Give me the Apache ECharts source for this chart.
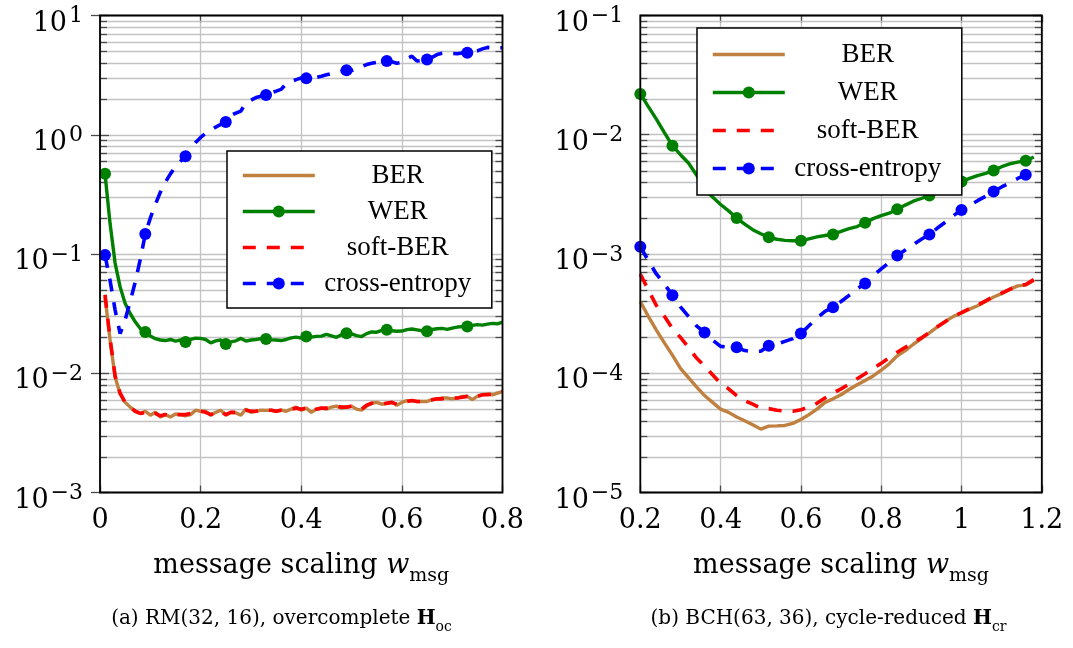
<!DOCTYPE html>
<html><head><meta charset="utf-8">
<script src="https://cdn.jsdelivr.net/npm/echarts@6/dist/echarts.min.js"></script>
<style>html,body{margin:0;padding:0;background:#fff}#c{width:1073px;height:648px}</style>
</head><body><div id="c"></div>
<script>
// ---------- data : left panel (RM(32,16)) ----------
const xLeft = [0.01,0.02,0.03,0.04,0.05,0.06,0.07,0.08,0.09,0.10,
  0.11,0.12,0.13,0.14,0.15,0.16,0.17,0.18,0.19,0.20,
  0.21,0.22,0.23,0.24,0.25,0.26,0.27,0.28,0.29,0.30,
  0.31,0.32,0.33,0.34,0.35,0.36,0.37,0.38,0.39,0.40,
  0.41,0.42,0.43,0.44,0.45,0.46,0.47,0.48,0.49,0.50,
  0.51,0.52,0.53,0.54,0.55,0.56,0.57,0.58,0.59,0.60,
  0.61,0.62,0.63,0.64,0.65,0.66,0.67,0.68,0.69,0.70,
  0.71,0.72,0.73,0.74,0.75,0.76,0.77,0.78,0.79,0.80];
const berLeft = [0.0440,0.0190,0.0093,0.0067,0.0057,0.0052,0.0048,0.0046,0.0048,0.00445,
  0.0047,0.0043,0.0045,0.0043,0.00455,0.0045,0.0044,0.0045,0.0049,0.0048,
  0.0048,0.00445,0.0047,0.0049,0.00443,0.0047,0.00465,0.00445,0.0050,0.0047,
  0.0048,0.0049,0.00488,0.0049,0.0048,0.0049,0.0048,0.0050,0.0052,0.0049,
  0.0051,0.0047,0.0050,0.0051,0.0050,0.0052,0.0053,0.0051,0.0052,0.0053,
  0.0050,0.0049,0.0053,0.0056,0.0057,0.0055,0.0056,0.0057,0.0054,0.0057,
  0.0059,0.0059,0.0058,0.0058,0.0058,0.0060,0.0061,0.0062,0.0062,0.0061,
  0.0062,0.0064,0.0064,0.0060,0.0064,0.0066,0.0067,0.0066,0.0068,0.0070];
const softBerLeft = [0.0455,0.0195,0.0095,0.0068,0.0057,0.0052,0.0048,0.0046,0.0047,0.0045,
  0.0046,0.0044,0.0045,0.0044,0.0045,0.0045,0.0045,0.0046,0.0048,0.0048,
  0.0047,0.0045,0.0047,0.0048,0.0045,0.0047,0.0047,0.0046,0.0049,0.0048,
  0.0048,0.0049,0.0049,0.0049,0.0048,0.0049,0.0049,0.0050,0.0051,0.0050,
  0.0051,0.0048,0.0050,0.0051,0.0051,0.0052,0.0053,0.0052,0.0052,0.0053,
  0.0051,0.0050,0.0054,0.0056,0.0056,0.0055,0.0056,0.0057,0.0055,0.0057,
  0.0058,0.0059,0.0058,0.0058,0.0059,0.0060,0.0061,0.0061,0.0062,0.0062,
  0.0062,0.0063,0.0064,0.0062,0.0064,0.0066,0.0066,0.0067,0.0068,0.0070];
const werLeft = [0.47,0.18,0.084,0.053,0.0385,0.0317,0.027,0.0237,0.0222,0.0205,
  0.0195,0.0190,0.0188,0.0192,0.0186,0.0190,0.0183,0.0192,0.0197,0.0196,
  0.0192,0.0180,0.0187,0.0190,0.0176,0.0183,0.0187,0.0196,0.0186,0.0190,
  0.0192,0.0195,0.0194,0.0191,0.0190,0.0188,0.0192,0.0198,0.0201,0.0197,
  0.0203,0.0201,0.0204,0.0205,0.0212,0.0206,0.0200,0.0210,0.0216,0.0214,
  0.0207,0.0203,0.0215,0.0222,0.0221,0.0229,0.0232,0.0227,0.0225,0.0226,
  0.0232,0.0235,0.0231,0.0227,0.0225,0.0233,0.0236,0.0238,0.0233,0.0239,
  0.0244,0.0246,0.0247,0.0252,0.0256,0.0253,0.0258,0.0262,0.0260,0.0268];
const ceLeft = [0.098,0.060,0.034,0.0215,0.028,0.040,0.058,0.090,0.147,0.20,
  0.26,0.33,0.40,0.47,0.54,0.60,0.66,0.76,0.86,0.95,
  1.03,1.09,1.16,1.22,1.28,1.45,1.52,1.58,1.85,1.95,
  2.05,2.10,2.15,2.25,2.32,2.40,2.68,2.80,2.90,3.00,
  2.97,2.97,3.03,3.10,3.18,3.26,3.33,3.40,3.48,3.45,
  3.55,3.72,3.88,3.98,4.05,4.10,4.15,4.10,3.98,4.05,
  4.35,4.56,4.15,4.20,4.28,4.45,4.70,4.82,4.88,4.80,
  4.78,4.85,4.88,4.95,5.05,5.25,5.40,5.35,5.30,5.37];

// ---------- data : right panel (BCH(63,36)) ----------
const xRight = [0.20,0.22,0.24,0.26,0.28,0.30,0.32,0.34,0.36,0.38,
  0.40,0.42,0.44,0.46,0.48,0.50,0.52,0.54,0.56,0.58,
  0.60,0.62,0.64,0.66,0.68,0.70,0.72,0.74,0.76,0.78,
  0.80,0.82,0.84,0.86,0.88,0.90,0.92,0.94,0.96,0.98,
  1.00,1.02,1.04,1.06,1.08,1.10,1.12,1.14,1.16,1.18];
const berRight = [0.00040,0.00030,0.00023,0.00018,0.000142,0.000110,0.000092,0.000077,0.000065,0.000057,
  0.000050,0.000047,0.000043,0.000040,0.000037,0.000034,0.000036,0.0000362,0.0000365,0.000038,
  0.000041,0.000045,0.000050,0.000057,0.000061,0.000066,0.000073,0.000080,0.000087,0.000095,
  0.000106,0.000120,0.000140,0.000155,0.000175,0.000195,0.000218,0.000245,0.000272,0.000300,
  0.000320,0.000345,0.000368,0.000400,0.000436,0.000465,0.000505,0.000540,0.000548,0.000600];
const softBerRight = [0.00068,0.00050,0.00037,0.00030,0.000238,0.000200,0.000165,0.000134,0.000115,0.000097,
  0.000082,0.000074,0.000065,0.000059,0.000055,0.000051,0.0000505,0.000049,0.000048,0.000048,
  0.0000495,0.000052,0.000056,0.000062,0.000068,0.000074,0.000081,0.000090,0.000099,0.000110,
  0.000121,0.000135,0.000150,0.000165,0.000180,0.000198,0.000220,0.000245,0.000272,0.000300,
  0.000322,0.000348,0.000372,0.000405,0.000440,0.000470,0.000505,0.000540,0.000555,0.000610];
const werRight = [0.0220,0.0172,0.0135,0.0104,0.0081,0.0068,0.0058,0.0046,0.0035,0.0030,
  0.0026,0.0023,0.0020,0.00178,0.00160,0.00148,0.00138,0.00133,0.00130,0.00129,
  0.00129,0.00134,0.00139,0.00143,0.00146,0.00155,0.00163,0.00170,0.00183,0.00198,
  0.00210,0.00220,0.00237,0.00257,0.00277,0.00292,0.00310,0.00330,0.00350,0.00378,
  0.00405,0.00430,0.00455,0.00475,0.00501,0.00540,0.00570,0.00590,0.00605,0.00650];
const ceRight = [0.00115,0.00088,0.00068,0.00056,0.00045,0.00036,0.00030,0.00025,0.00022,0.00019,
  0.000168,0.000166,0.000165,0.000155,0.000152,0.000153,0.000170,0.000175,0.000185,0.000195,
  0.000215,0.00025,0.00029,0.00033,0.000357,0.00040,0.00045,0.00051,0.000567,0.00066,
  0.00075,0.00085,0.00097,0.00108,0.00120,0.00133,0.00146,0.00165,0.00185,0.00210,
  0.00234,0.00255,0.00280,0.00305,0.00334,0.00365,0.00395,0.00430,0.00461,0.00490];

// ---------- labels / ticks ----------
const seriesNames = ['BER', 'WER', 'soft-BER', 'cross-entropy'];
const decadesLeft = [-3, -2, -1, 0];
const decadesRight = [-5, -4, -3, -2];
const minorMultipliers = [2, 3, 4, 5, 6, 7, 8, 9];
const xAxisTitle = 'message scaling ';
const xAxisTitleVar = 'w';
const xAxisTitleSub = 'msg';
const captionLeft = ['(a) RM(32, 16), overcomplete ', 'H', 'oc'];
const captionRight = ['(b) BCH(63, 36), cycle-reduced ', 'H', 'cr'];

// ---------- styling ----------
const COLORS = { 'BER': '#bf8040', 'WER': '#008000', 'soft-BER': '#ff0000', 'cross-entropy': '#0000ff' };
const SERIF = 'DejaVu Serif';
const TIMES = 'Liberation Serif';
const GRIDC = '#c2c2c2';
const TICKC = '#4a4a4a';
const SOLID_W = 3.4;
const DASH_W = 3.6;

function minorValues(decades) {
  const out = [];
  decades.forEach(d => minorMultipliers.forEach(m => out.push([m * Math.pow(10, d)])));
  return out;
}

function lineSeries(name, xs, ys, idx, every) {
  const marked = (name === 'WER' || name === 'cross-entropy');
  const dashed = (name === 'soft-BER' || name === 'cross-entropy');
  const color = COLORS[name];
  return {
    type: 'line', name, xAxisIndex: idx, yAxisIndex: idx,
    data: xs.map((x, i) => (marked && i % every === 0) ? { value: [x, ys[i]] } : { value: [x, ys[i]], symbol: 'none' }),
    symbol: marked ? 'circle' : 'none', symbolSize: 12, showSymbol: true, showAllSymbol: true,
    lineStyle: { color, width: dashed ? DASH_W : SOLID_W, type: dashed ? [13, 11] : 'solid', cap: 'butt' },
    itemStyle: { color, borderWidth: 0 },
    z: 3, silent: true
  };
}

function minorGrid(idx, decades) {
  return {
    type: 'custom', name: '_minor' + idx, xAxisIndex: idx, yAxisIndex: idx, silent: true, z: 1,
    data: minorValues(decades), encode: { y: 0 },
    renderItem: (params, api) => {
      const cs = params.coordSys;
      const y = Math.round(api.coord([idx === 0 ? 0.4 : 0.7, api.value(0)])[1]) + 0.5;
      return { type: 'group', children: [
        { type: 'line', shape: { x1: cs.x, y1: y, x2: cs.x + cs.width, y2: y }, style: { stroke: GRIDC, lineWidth: 1.3 } },
        { type: 'line', shape: { x1: cs.x, y1: y, x2: cs.x + 7, y2: y }, style: { stroke: TICKC, lineWidth: 1.3 } },
        { type: 'line', shape: { x1: cs.x + cs.width - 7, y1: y, x2: cs.x + cs.width, y2: y }, style: { stroke: TICKC, lineWidth: 1.3 } }
      ]};
    }
  };
}

const powLabel = v => {
  const e = Math.round(Math.log10(v));
  return '{b|10}{e|' + (e < 0 ? '\u2212' : '') + Math.abs(e) + '}';
};

function xAxisMain(idx, min, max) {
  return {
    type: 'value', gridIndex: idx, min, max, interval: 0.2, position: 'bottom',
    axisLine: { show: false },
    axisTick: { show: true, inside: true, length: 7, lineStyle: { color: TICKC, width: 1.3 } },
    splitLine: { show: true, lineStyle: { color: GRIDC, width: 1.3 } },
    axisLabel: { show: true, margin: 15, fontFamily: SERIF, fontSize: 27, color: '#000',
      formatter: v => String(Math.round(v * 10) / 10) },
    name: '{n|' + xAxisTitle + '}{w|' + xAxisTitleVar + '}{s|' + xAxisTitleSub + '}',
    nameLocation: 'middle', nameGap: 53,
    nameTextStyle: { rich: {
      n: { fontFamily: SERIF, fontSize: 27, color: '#000', lineHeight: 40, verticalAlign: 'middle' },
      w: { fontFamily: SERIF, fontStyle: 'italic', fontSize: 27, color: '#000', lineHeight: 40, verticalAlign: 'middle' },
      s: { fontFamily: SERIF, fontSize: 19, color: '#000', lineHeight: 26, verticalAlign: 'bottom' }
    } }
  };
}
function xAxisTop(idx, min, max) {
  return { type: 'value', gridIndex: idx, min, max, interval: 0.2, position: 'top',
    axisLine: { show: false }, axisLabel: { show: false }, splitLine: { show: false },
    axisTick: { show: true, inside: true, length: 7, lineStyle: { color: TICKC, width: 1.3 } } };
}
function yAxisMain(idx, min, max) {
  return {
    type: 'log', logBase: 10, gridIndex: idx, min, max, splitNumber: 4, position: 'left',
    axisLine: { show: false },
    axisTick: { show: true, inside: true, length: 9, lineStyle: { color: TICKC, width: 1.3 } },
    splitLine: { show: true, lineStyle: { color: GRIDC, width: 1.3 } },
    axisLabel: { show: true, margin: 17, formatter: powLabel, padding: [16, 0, 0, 0],
      rich: {
        b: { fontFamily: SERIF, fontSize: 27, color: '#000', lineHeight: 36, verticalAlign: 'middle' },
        e: { fontFamily: SERIF, fontSize: 22, color: '#000', lineHeight: 18, verticalAlign: 'top', padding: [0, 0, 0, 2] }
      } }
  };
}
function yAxisRight(idx, min, max) {
  return { type: 'log', logBase: 10, gridIndex: idx, min, max, splitNumber: 4, position: 'right',
    axisLine: { show: false }, axisLabel: { show: false }, splitLine: { show: false },
    axisTick: { show: true, inside: true, length: 9, lineStyle: { color: TICKC, width: 1.3 } } };
}

const legendData = [
  { name: 'BER', itemStyle: { opacity: 0 }, lineStyle: { width: SOLID_W } },
  { name: 'WER', lineStyle: { width: SOLID_W } },
  { name: 'soft-BER', itemStyle: { opacity: 0 }, lineStyle: { width: DASH_W } },
  { name: 'cross-entropy', lineStyle: { width: DASH_W } }
];
function legend(left, top, gap, padV) {
  return {
    left, top, orient: 'vertical', itemWidth: 72, itemHeight: 15, itemGap: gap,
    padding: [padV, 16, padV, 14], borderColor: '#000', borderWidth: 1.5, backgroundColor: '#fff',
    selectedMode: false, z: 10, data: legendData,
    lineStyle: { width: SOLID_W },
    formatter: n => '{t|' + n + '}',
    textStyle: { rich: { t: { width: 156, align: 'center', fontFamily: TIMES, fontSize: 27, lineHeight: 26, color: '#000' } } }
  };
}

const series = [
  minorGrid(0, decadesLeft), minorGrid(1, decadesRight),
  lineSeries('BER', xLeft, berLeft, 0, 8),
  lineSeries('WER', xLeft, werLeft, 0, 8),
  lineSeries('soft-BER', xLeft, softBerLeft, 0, 8),
  lineSeries('cross-entropy', xLeft, ceLeft, 0, 8),
  lineSeries('BER', xRight, berRight, 1, 4),
  lineSeries('WER', xRight, werRight, 1, 4),
  lineSeries('soft-BER', xRight, softBerRight, 1, 4),
  lineSeries('cross-entropy', xRight, ceRight, 1, 4)
];

const capRich = {
  n: { fontFamily: SERIF, fontSize: 20, color: '#000', lineHeight: 30, verticalAlign: 'middle' },
  h: { fontFamily: SERIF, fontWeight: 'bold', fontSize: 20, color: '#000', lineHeight: 30, verticalAlign: 'middle' },
  s: { fontFamily: SERIF, fontSize: 14, color: '#000', lineHeight: 20, verticalAlign: 'bottom' }
};
const capText = c => '{n|' + c[0] + '}{h|' + c[1] + '}{s|' + c[2] + '}';

const chart = echarts.init(document.getElementById('c'), null, { renderer: 'canvas' });
chart.setOption({
  animation: false,
  backgroundColor: '#fff',
  grid: [
    { left: 100, top: 15.5, width: 402.5, height: 477, show: true, borderColor: '#000', borderWidth: 1.8, backgroundColor: 'transparent', z: 5 },
    { left: 640.3, top: 15.5, width: 401.5, height: 477, show: true, borderColor: '#000', borderWidth: 1.8, backgroundColor: 'transparent', z: 5 }
  ],
  xAxis: [ xAxisMain(0, 0, 0.8), xAxisMain(1, 0.2, 1.2), xAxisTop(0, 0, 0.8), xAxisTop(1, 0.2, 1.2) ],
  yAxis: [ yAxisMain(0, 1e-3, 10), yAxisMain(1, 1e-5, 0.1), yAxisRight(0, 1e-3, 10), yAxisRight(1, 1e-5, 0.1) ],
  legend: [ legend(227, 151, 9, 11), legend(697, 28, 11, 13) ],
  series,
  graphic: [
    { type: 'text', x: 281.5, y: 619, style: { text: capText(captionLeft), rich: capRich, align: 'center', verticalAlign: 'middle' } },
    { type: 'text', x: 828.5, y: 619, style: { text: capText(captionRight), rich: capRich, align: 'center', verticalAlign: 'middle' } }
  ]
});
</script></body></html>
